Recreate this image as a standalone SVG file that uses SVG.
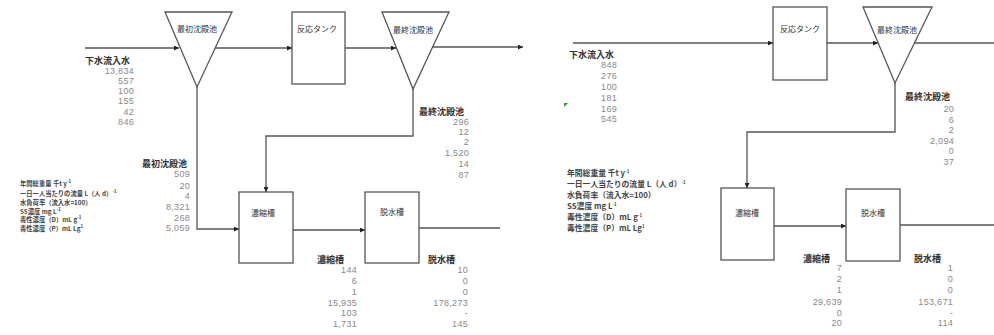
<svg xmlns="http://www.w3.org/2000/svg" width="994" height="335" viewBox="0 0 994 335">
<defs>
<marker id="arr" viewBox="0 0 10 10" refX="10" refY="5" markerWidth="5" markerHeight="5" orient="auto" markerUnits="userSpaceOnUse"><path d="M0,0 L10,5 L0,10 z" fill="#222"/></marker>
<style>
.shape{fill:#fff;stroke:#555;stroke-width:1.3}
.line{fill:none;stroke:#555;stroke-width:1.3}
.lbl{font-family:"Noto Sans CJK JP","Liberation Sans",sans-serif;font-size:8px;fill:#333;text-anchor:middle}
.hd{font-family:"Noto Sans CJK JP","Liberation Sans",sans-serif;font-size:9px;font-weight:bold;fill:#333}
.num{font-family:"Liberation Sans","Noto Sans CJK JP",sans-serif;font-size:9px;fill:#888;text-anchor:end;letter-spacing:0.3px}
.lg1{font-family:"Noto Sans CJK JP","Liberation Sans",sans-serif;font-size:6.3px;font-weight:bold;fill:#444}
.lg2{font-family:"Noto Sans CJK JP","Liberation Sans",sans-serif;font-size:7.8px;font-weight:bold;fill:#444}
.sup{font-size:4.5px}
</style>
</defs>
<rect width="994" height="335" fill="#fff"/>

<!-- LEFT DIAGRAM -->
<g id="L-primary">
<polygon class="shape" points="165,12 232,12 197,87"/>
<text class="lbl" x="197" y="32">最初沈殿池</text>
</g>
<g id="L-reaction">
<rect class="shape" x="292" y="12" width="53" height="72"/>
<text class="lbl" x="317" y="32">反応タンク</text>
</g>
<g id="L-final">
<polygon class="shape" points="382,12 449,12 413,89"/>
<text class="lbl" x="413" y="33">最終沈殿池</text>
</g>
<g id="L-thick">
<rect class="shape" x="239" y="192" width="54" height="71"/>
<text class="lbl" x="263" y="216">濃縮槽</text>
</g>
<g id="L-dewater">
<rect class="shape" x="365" y="192" width="54" height="71"/>
<text class="lbl" x="392" y="215">脱水槽</text>
</g>

<!-- RIGHT DIAGRAM -->
<g id="R-reaction">
<rect class="shape" x="773" y="7" width="54" height="73"/>
<text class="lbl" x="800" y="32">反応タンク</text>
</g>
<g id="R-final">
<polygon class="shape" points="863,7 932,7 895,83"/>
<text class="lbl" x="897" y="33">最終沈殿池</text>
</g>
<g id="R-thick">
<rect class="shape" x="721" y="188" width="53" height="72"/>
<text class="lbl" x="747" y="216">濃縮槽</text>
</g>
<g id="R-dewater">
<rect class="shape" x="846" y="189" width="54" height="72"/>
<text class="lbl" x="873" y="216">脱水槽</text>
</g>

<g id="connectors">
<line class="line" x1="85" y1="48" x2="179" y2="48" marker-end="url(#arr)"/>
<line class="line" x1="215" y1="48" x2="292" y2="48" marker-end="url(#arr)"/>
<line class="line" x1="345" y1="48" x2="396" y2="48" marker-end="url(#arr)"/>
<line class="line" x1="432" y1="47" x2="523" y2="47" marker-end="url(#arr)"/>
<polyline class="line" points="413,89 413,136 266,136 266,192" marker-end="url(#arr)"/>
<polyline class="line" points="197,87 197,229 239,229" marker-end="url(#arr)"/>
<line class="line" x1="293" y1="230" x2="365" y2="230" marker-end="url(#arr)"/>
<line class="line" x1="419" y1="228" x2="500" y2="228"/>

<line class="line" x1="573" y1="43" x2="773" y2="43" marker-end="url(#arr)"/>
<line class="line" x1="827" y1="43" x2="878" y2="43" marker-end="url(#arr)"/>
<line class="line" x1="914" y1="43" x2="994" y2="43"/>
<polyline class="line" points="895,83 895,132 747,132 747,188" marker-end="url(#arr)"/>
<line class="line" x1="774" y1="226" x2="846" y2="226" marker-end="url(#arr)"/>
<line class="line" x1="900" y1="225" x2="994" y2="225"/>
</g>

<polygon points="564,103 568,103 564,107" fill="#2a9a2a"/>

<!-- LEFT DATA -->
<g id="L-data">
<text class="hd" x="85" y="64">下水流入水</text>
<text class="num" x="134" y="74">13,834</text>
<text class="num" x="134" y="84">557</text>
<text class="num" x="134" y="94">100</text>
<text class="num" x="134" y="104">155</text>
<text class="num" x="134" y="115">42</text>
<text class="num" x="134" y="125">846</text>

<text class="hd" x="142" y="167">最初沈殿池</text>
<text class="num" x="190" y="177">509</text>
<text class="num" x="190" y="189">20</text>
<text class="num" x="190" y="199">4</text>
<text class="num" x="190" y="210">8,321</text>
<text class="num" x="190" y="221">268</text>
<text class="num" x="190" y="231">5,059</text>

<text class="hd" x="419" y="115">最終沈殿池</text>
<text class="num" x="469" y="125">296</text>
<text class="num" x="469" y="135">12</text>
<text class="num" x="469" y="145">2</text>
<text class="num" x="469" y="156">1,520</text>
<text class="num" x="469" y="167">14</text>
<text class="num" x="469" y="178">87</text>

<text class="hd" x="317" y="263">濃縮槽</text>
<text class="num" x="357" y="273">144</text>
<text class="num" x="357" y="284">6</text>
<text class="num" x="357" y="295">1</text>
<text class="num" x="357" y="306">15,935</text>
<text class="num" x="357" y="316">103</text>
<text class="num" x="357" y="327">1,731</text>

<text class="hd" x="428" y="263">脱水槽</text>
<text class="num" x="468" y="273">10</text>
<text class="num" x="468" y="284">0</text>
<text class="num" x="468" y="295">0</text>
<text class="num" x="468" y="306">178,273</text>
<text class="num" x="468" y="316">-</text>
<text class="num" x="468" y="327">145</text>

<text class="lg1" x="20" y="186">年間総重量 千t y<tspan class="sup" dy="-3">-1</tspan></text>
<text class="lg1" x="20" y="195.5">一日一人当たりの流量 L（人 d）<tspan class="sup" dy="-3">-1</tspan></text>
<text class="lg1" x="20" y="204.5">水負荷率（流入水=100）</text>
<text class="lg1" x="20" y="213.5">SS濃度 mg L<tspan class="sup" dy="-3">-1</tspan></text>
<text class="lg1" x="20" y="222">毒性濃度（D）mL g<tspan class="sup" dy="-3">-1</tspan></text>
<text class="lg1" x="20" y="231">毒性濃度（P）mL Lg<tspan class="sup" dy="-3">1</tspan></text>
</g>

<!-- RIGHT DATA -->
<g id="R-data">
<text class="hd" x="569" y="58">下水流入水</text>
<text class="num" x="617" y="68">848</text>
<text class="num" x="617" y="79">276</text>
<text class="num" x="617" y="90">100</text>
<text class="num" x="617" y="101">181</text>
<text class="num" x="617" y="112">169</text>
<text class="num" x="617" y="122">545</text>

<text class="hd" x="905" y="100">最終沈殿池</text>
<text class="num" x="954" y="112">20</text>
<text class="num" x="954" y="123">6</text>
<text class="num" x="954" y="133">2</text>
<text class="num" x="954" y="144">2,094</text>
<text class="num" x="954" y="154">0</text>
<text class="num" x="954" y="165">37</text>

<text class="hd" x="803" y="262">濃縮槽</text>
<text class="num" x="842" y="271">7</text>
<text class="num" x="842" y="282">2</text>
<text class="num" x="842" y="293">1</text>
<text class="num" x="842" y="305">29,639</text>
<text class="num" x="842" y="316">0</text>
<text class="num" x="842" y="326">20</text>

<text class="hd" x="914" y="262">脱水槽</text>
<text class="num" x="953" y="271">1</text>
<text class="num" x="953" y="282">0</text>
<text class="num" x="953" y="293">0</text>
<text class="num" x="953" y="305">153,671</text>
<text class="num" x="953" y="316">-</text>
<text class="num" x="953" y="326">114</text>

<text class="lg2" x="567" y="176">年間総重量 千t y<tspan class="sup" dy="-3">-1</tspan></text>
<text class="lg2" x="567" y="187">一日一人当たりの流量 L（人 d）<tspan class="sup" dy="-3">-1</tspan></text>
<text class="lg2" x="567" y="198">水負荷率（流入水=100）</text>
<text class="lg2" x="567" y="208.5">SS濃度 mg L<tspan class="sup" dy="-3">-1</tspan></text>
<text class="lg2" x="567" y="219.5">毒性濃度（D）mL g<tspan class="sup" dy="-3">-1</tspan></text>
<text class="lg2" x="567" y="231">毒性濃度（P）mL Lg<tspan class="sup" dy="-3">1</tspan></text>
</g>
</svg>
